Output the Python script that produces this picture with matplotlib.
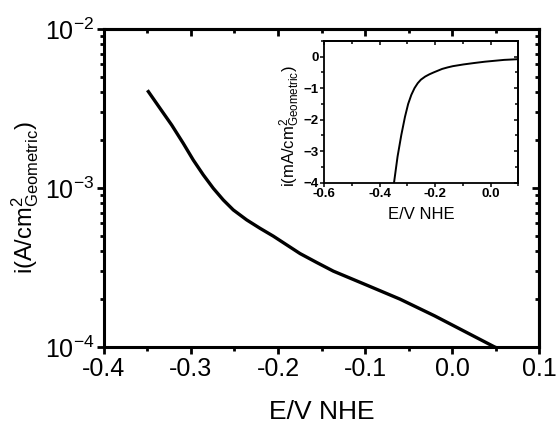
import numpy as np
import matplotlib
matplotlib.use('Agg')
import matplotlib.pyplot as plt
import matplotlib.ticker as ticker

plt.rcParams['font.family'] = ['Liberation Sans', 'DejaVu Sans']
plt.rcParams['mathtext.fontset'] = 'custom'
plt.rcParams['mathtext.rm'] = 'Liberation Sans'
plt.rcParams['mathtext.it'] = 'Liberation Sans'
plt.rcParams['mathtext.bf'] = 'Liberation Sans:bold'

# potential vs NHE (V) and current density (A/cm2)
E = [-0.349, -0.3356, -0.3222, -0.3089, -0.2974, -0.2859, -0.2744, -0.2629,
     -0.2514, -0.236, -0.2207, -0.2054, -0.1747, -0.1555, -0.1364, -0.098,
     -0.0598, -0.02, 0.049, 0.1]
i_A = [4.04e-3, 3.17e-3, 2.49e-3, 1.91e-3, 1.50e-3, 1.21e-3, 9.96e-4, 8.41e-4,
       7.28e-4, 6.30e-4, 5.58e-4, 4.98e-4, 3.87e-4, 3.40e-4, 3.00e-4, 2.45e-4,
       2.00e-4, 1.57e-4, 1.0e-4, 7.8e-5]

E = np.array(E)
i_A = np.array(i_A)
i_mA = -i_A * 1000    # inset: cathodic current in mA/cm2

fig = plt.figure(figsize=(5.57, 4.23), dpi=100)
ax = fig.add_axes([0.1867, 0.1797, 0.781, 0.7517])

ax.semilogy(E, i_A, color='black', lw=2.4, solid_joinstyle='round')
ax.set_xlim(-0.4, 0.1)
ax.set_ylim(1e-4, 1e-2)

ax.xaxis.set_major_locator(ticker.MultipleLocator(0.1))
ax.xaxis.set_minor_locator(ticker.MultipleLocator(0.05))
ax.xaxis.set_major_formatter(ticker.FormatStrFormatter('%.1f'))
ax.yaxis.set_major_locator(ticker.LogLocator(base=10))
ax.yaxis.set_minor_locator(ticker.LogLocator(base=10, subs=np.arange(2, 10)))
ax.yaxis.set_minor_formatter(ticker.NullFormatter())
ax.yaxis.set_major_formatter(ticker.FuncFormatter(lambda v, p: r'$10^{%d}$' % round(np.log10(v))))

for s in ax.spines.values():
    s.set_linewidth(2.2)
ax.tick_params(which='both', direction='out', width=2, labelsize=18, pad=2)
ax.tick_params(which='major', length=5)
ax.tick_params(which='minor', length=3)

# top / right ticks pointing inward
axt = ax.secondary_xaxis('top')
axt.xaxis.set_major_locator(ticker.MultipleLocator(0.1))
axt.xaxis.set_minor_locator(ticker.MultipleLocator(0.05))
axt.tick_params(which='both', direction='in', width=2, labeltop=False)
axt.tick_params(which='major', length=5)
axt.tick_params(which='minor', length=3)
axr = ax.secondary_yaxis('right')
axr.yaxis.set_major_locator(ticker.LogLocator(base=10))
axr.yaxis.set_minor_locator(ticker.LogLocator(base=10, subs=np.arange(2, 10)))
axr.tick_params(which='both', direction='in', width=2, labelright=False)
axr.tick_params(which='major', length=5)
axr.tick_params(which='minor', length=3)
for a in (axt, axr):
    for s in a.spines.values():
        s.set_linewidth(2.2)

ax.set_xlabel('E/V NHE', fontsize=19, labelpad=14)
ax.set_ylabel(r'i(A/cm$^{2}_{\mathrm{Geometric}}$)', fontsize=17)
ax.yaxis.set_label_coords(-0.145, 0.47)

# inset
ins = fig.add_axes([0.5822, 0.5681, 0.3483, 0.335])
ins.plot(E, i_mA, color='black', lw=1.4, solid_joinstyle='round')
ins.set_xlim(-0.6, 0.1)
ins.set_ylim(-4, 0.5)
ins.xaxis.set_major_locator(ticker.MultipleLocator(0.2))
ins.xaxis.set_minor_locator(ticker.MultipleLocator(0.1))
ins.xaxis.set_major_formatter(ticker.FormatStrFormatter('%.1f'))
ins.yaxis.set_major_locator(ticker.MultipleLocator(1))
ins.yaxis.set_minor_locator(ticker.MultipleLocator(0.5))
for s in ins.spines.values():
    s.set_linewidth(1.3)
ins.tick_params(which='both', direction='out', width=1.1, labelsize=9.5, pad=1)
ins.tick_params(which='major', length=3)
ins.tick_params(which='minor', length=2)
inst = ins.secondary_xaxis('top')
inst.xaxis.set_major_locator(ticker.MultipleLocator(0.2))
inst.xaxis.set_minor_locator(ticker.MultipleLocator(0.1))
inst.tick_params(which='both', direction='in', width=1.1, labeltop=False)
inst.tick_params(which='major', length=3)
inst.tick_params(which='minor', length=2)
insr = ins.secondary_yaxis('right')
insr.yaxis.set_major_locator(ticker.MultipleLocator(1))
insr.yaxis.set_minor_locator(ticker.MultipleLocator(0.5))
insr.tick_params(which='both', direction='in', width=1.1, labelright=False)
insr.tick_params(which='major', length=3)
insr.tick_params(which='minor', length=2)
for a in (inst, insr):
    for s in a.spines.values():
        s.set_linewidth(1.3)
for lab in ins.get_xticklabels() + ins.get_yticklabels():
    lab.set_fontweight('bold')
ins.set_xlabel('E/V NHE', fontsize=12, labelpad=5)
ins.set_ylabel(r'i(mA/cm$^{2}_{\mathrm{Geometric}}$)', fontsize=12)
ins.yaxis.set_label_coords(-0.115, 0.40)

fig.savefig('out.png', dpi=100)
